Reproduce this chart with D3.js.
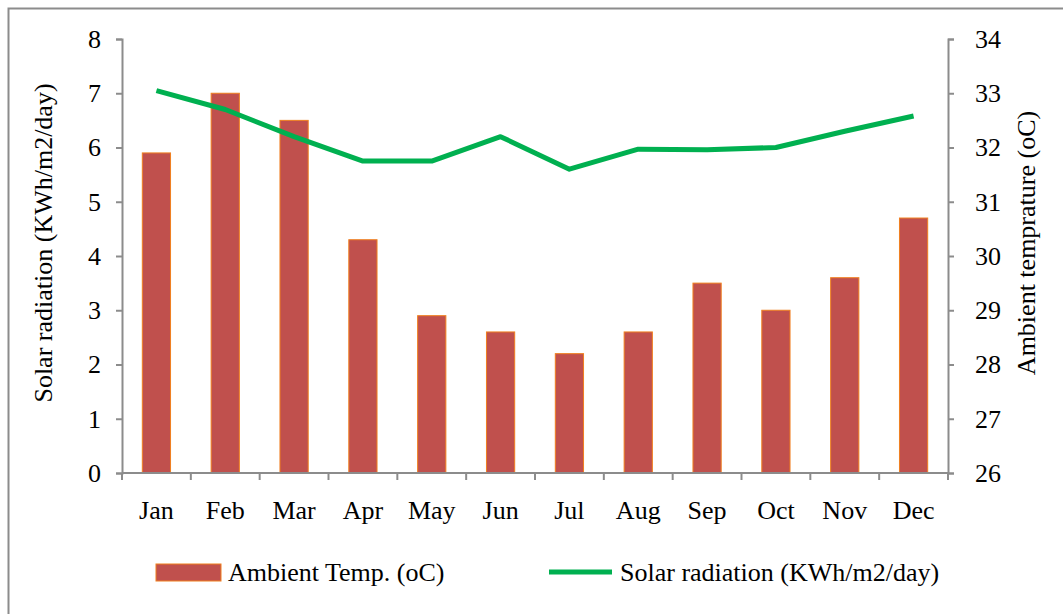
<!doctype html>
<html>
<head>
<meta charset="utf-8">
<title>Solar radiation and ambient temperature</title>
<script src="https://cdn.jsdelivr.net/npm/d3@7"></script>
<style>
  body { margin: 0; background: #fff; }
  text { font-family: "Liberation Serif", "Times New Roman", serif; fill: #000; }
</style>
</head>
<body>
<svg width="1063" height="614"></svg>
<script>
var months = ["Jan","Feb","Mar","Apr","May","Jun","Jul","Aug","Sep","Oct","Nov","Dec"];
// bars, read on the left axis
var barValues = [5.9, 7.0, 6.5, 4.3, 2.9, 2.6, 2.2, 2.6, 3.5, 3.0, 3.6, 4.7];
// line, read on the right axis
var lineValues = [33.05, 32.7, 32.2, 31.75, 31.75, 32.2, 31.6, 31.97, 31.96, 32.0, 32.3, 32.58];
var leftTicks = [0,1,2,3,4,5,6,7,8];
var rightTicks = [26,27,28,29,30,31,32,33,34];
var barLabel = "Ambient Temp. (oC)";
var lineLabel = "Solar radiation (KWh/m2/day)";

var svg = d3.select("svg");
var plotL = 122, plotR = 948, plotT = 39, plotB = 473;
var fs = "26px";

// outer frame (only top and left edges show)
svg.append("rect").attr("x", 8.5).attr("y", 8.5).attr("width", 1100).attr("height", 700)
    .attr("fill", "none").attr("stroke", "#8c8c8c").attr("stroke-width", 2);

var x = d3.scaleBand().domain(months).range([plotL, plotR]).paddingInner(0.59).paddingOuter(0.295);
var xTick = d3.scaleBand().domain(months).range([plotL, plotR]);
var y = d3.scaleLinear().domain([0, 8]).range([plotB, plotT]);
var y2 = d3.scaleLinear().domain([26, 34]).range([plotB, plotT]);

// bars
svg.append("g").selectAll("rect").data(barValues).enter().append("rect")
    .attr("x", function (d, i) { return x(months[i]); })
    .attr("y", function (d) { return y(d); })
    .attr("width", x.bandwidth())
    .attr("height", function (d) { return plotB - y(d); })
    .attr("fill", "#c0504d")
    .attr("stroke", "#f07f1f").attr("stroke-width", 1);

// line
var line = d3.line()
    .x(function (d, i) { return xTick(months[i]) + xTick.bandwidth() / 2; })
    .y(function (d) { return y2(d); });
svg.append("path").datum(lineValues).attr("d", line)
    .attr("fill", "none").attr("stroke", "#00b050").attr("stroke-width", 5)
    .attr("stroke-linejoin", "round");

// axes
var axisColor = "#8c8c8c";
var gl = svg.append("g").attr("transform", "translate(" + plotL + ",0)")
    .call(d3.axisLeft(y).tickValues(leftTicks).tickSize(6).tickPadding(15).tickFormat(d3.format("d")));
var gr = svg.append("g").attr("transform", "translate(" + plotR + ",0)")
    .call(d3.axisRight(y2).tickValues(rightTicks).tickSize(6).tickPadding(21).tickFormat(d3.format("d")));
[gl, gr].forEach(function (g) {
  g.select(".domain").attr("stroke", axisColor).attr("stroke-width", 2);
  g.selectAll(".tick line").attr("stroke", axisColor).attr("stroke-width", 2);
  g.selectAll("text").style("font-size", fs).style("font-family", "Liberation Serif").attr("fill", "#000");
});

// bottom axis: ticks at category boundaries
var gx = svg.append("g").attr("transform", "translate(0," + plotB + ")");
gx.append("line").attr("x1", plotL).attr("x2", plotR).attr("stroke", axisColor).attr("stroke-width", 2);
gx.selectAll("line.tk").data(months.concat(["end"])).enter().append("line").attr("class", "tk")
    .attr("x1", function (d, i) { return i < 12 ? xTick(d) : plotR; })
    .attr("x2", function (d, i) { return i < 12 ? xTick(d) : plotR; })
    .attr("y1", 0).attr("y2", 7).attr("stroke", axisColor).attr("stroke-width", 2);
gx.selectAll("text").data(months).enter().append("text")
    .attr("x", function (d) { return xTick(d) + xTick.bandwidth() / 2; })
    .attr("y", 46).attr("text-anchor", "middle").style("font-size", fs)
    .text(function (d) { return d; });

// axis titles
svg.append("text").attr("transform", "translate(52,243) rotate(-90)")
    .attr("text-anchor", "middle").style("font-size", fs).text("Solar radiation (KWh/m2/day)");
svg.append("text").attr("transform", "translate(1035,243) rotate(-90)")
    .attr("text-anchor", "middle").style("font-size", fs).text("Ambient temprature (oC)");

// legend
var lg = svg.append("g");
lg.append("rect").attr("x", 156).attr("y", 564).attr("width", 65).attr("height", 17)
    .attr("fill", "#c0504d").attr("stroke", "#f07f1f").attr("stroke-width", 1);
lg.append("text").attr("x", 228).attr("y", 581).style("font-size", fs).text(barLabel);
lg.append("line").attr("x1", 549).attr("x2", 612).attr("y1", 572).attr("y2", 572)
    .attr("stroke", "#00b050").attr("stroke-width", 5);
lg.append("text").attr("x", 620).attr("y", 581).style("font-size", fs).text(lineLabel);
</script>
</body>
</html>
